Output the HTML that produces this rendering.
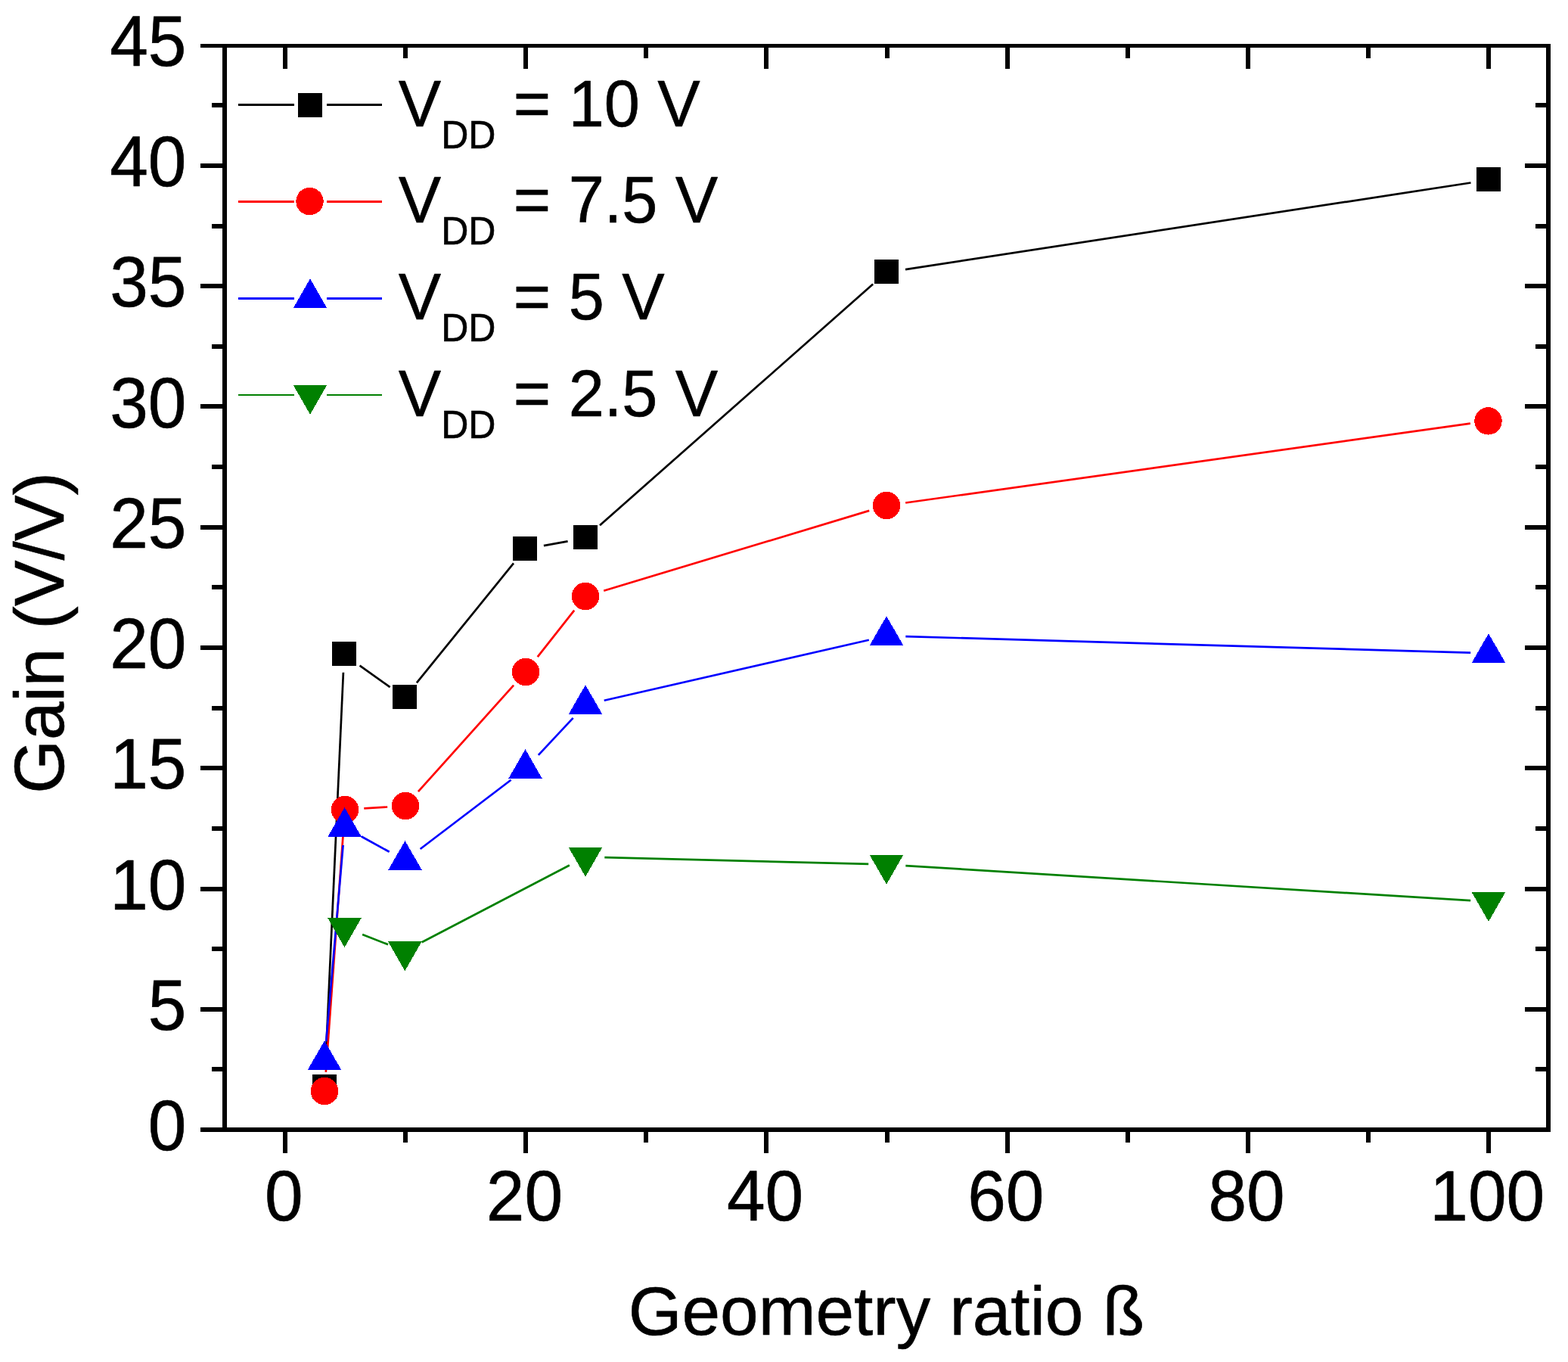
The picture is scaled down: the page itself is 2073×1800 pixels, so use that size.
<!DOCTYPE html>
<html lang="en"><head><meta charset="utf-8"><title>Gain vs geometry ratio</title>
<style>html,body{margin:0;padding:0;background:#fff;}body{width:2073px;height:1800px;}svg{display:block;}text{font-family:"Liberation Sans",sans-serif;fill:#000;stroke:#000;stroke-width:0.6px;stroke-linejoin:round;}</style>
</head><body>
<svg width="2073" height="1800" viewBox="0 0 2073 1800">
<rect x="0" y="0" width="2073" height="1800" fill="#fff"/>
<g fill="#000" shape-rendering="crispEdges">
<rect x="265" y="58" width="1785" height="5"/>
<rect x="265" y="1490" width="1785" height="6"/>
<rect x="294" y="58" width="6" height="1438"/>
<rect x="2044" y="58" width="6" height="1438"/>
<rect x="280" y="1410" width="14" height="6"/>
<rect x="2030" y="1410" width="14" height="6"/>
<rect x="265" y="1331" width="29" height="6"/>
<rect x="2016" y="1331" width="28" height="6"/>
<rect x="280" y="1251" width="14" height="6"/>
<rect x="2030" y="1251" width="14" height="6"/>
<rect x="265" y="1172" width="29" height="6"/>
<rect x="2016" y="1172" width="28" height="6"/>
<rect x="280" y="1092" width="14" height="6"/>
<rect x="2030" y="1092" width="14" height="6"/>
<rect x="265" y="1012" width="29" height="6"/>
<rect x="2016" y="1012" width="28" height="6"/>
<rect x="280" y="933" width="14" height="6"/>
<rect x="2030" y="933" width="14" height="6"/>
<rect x="265" y="853" width="29" height="6"/>
<rect x="2016" y="853" width="28" height="6"/>
<rect x="280" y="773" width="14" height="6"/>
<rect x="2030" y="773" width="14" height="6"/>
<rect x="265" y="694" width="29" height="6"/>
<rect x="2016" y="694" width="28" height="6"/>
<rect x="280" y="614" width="14" height="6"/>
<rect x="2030" y="614" width="14" height="6"/>
<rect x="265" y="534" width="29" height="6"/>
<rect x="2016" y="534" width="28" height="6"/>
<rect x="280" y="455" width="14" height="6"/>
<rect x="2030" y="455" width="14" height="6"/>
<rect x="265" y="375" width="29" height="6"/>
<rect x="2016" y="375" width="28" height="6"/>
<rect x="280" y="296" width="14" height="6"/>
<rect x="2030" y="296" width="14" height="6"/>
<rect x="265" y="216" width="29" height="6"/>
<rect x="2016" y="216" width="28" height="6"/>
<rect x="280" y="136" width="14" height="6"/>
<rect x="2030" y="136" width="14" height="6"/>
<rect x="374" y="1496" width="6" height="28"/>
<rect x="374" y="63" width="6" height="28"/>
<rect x="533" y="1496" width="6" height="14"/>
<rect x="533" y="63" width="6" height="14"/>
<rect x="692" y="1496" width="6" height="28"/>
<rect x="692" y="63" width="6" height="28"/>
<rect x="851" y="1496" width="6" height="14"/>
<rect x="851" y="63" width="6" height="14"/>
<rect x="1010" y="1496" width="6" height="28"/>
<rect x="1010" y="63" width="6" height="28"/>
<rect x="1170" y="1496" width="6" height="14"/>
<rect x="1170" y="63" width="6" height="14"/>
<rect x="1329" y="1496" width="6" height="28"/>
<rect x="1329" y="63" width="6" height="28"/>
<rect x="1488" y="1496" width="6" height="14"/>
<rect x="1488" y="63" width="6" height="14"/>
<rect x="1647" y="1496" width="6" height="28"/>
<rect x="1647" y="63" width="6" height="28"/>
<rect x="1806" y="1496" width="6" height="14"/>
<rect x="1806" y="63" width="6" height="14"/>
<rect x="1965" y="1496" width="6" height="28"/>
<rect x="1965" y="63" width="6" height="28"/>
</g>
<g font-size="91">
<text transform="translate(246.4,1520.0) scale(1,1.036)" text-anchor="end">0</text>
<text transform="translate(246.4,1360.8) scale(1,1.036)" text-anchor="end">5</text>
<text transform="translate(246.4,1201.5) scale(1,1.036)" text-anchor="end">10</text>
<text transform="translate(246.4,1042.2) scale(1,1.036)" text-anchor="end">15</text>
<text transform="translate(246.4,883.0) scale(1,1.036)" text-anchor="end">20</text>
<text transform="translate(246.4,723.8) scale(1,1.036)" text-anchor="end">25</text>
<text transform="translate(246.4,564.5) scale(1,1.036)" text-anchor="end">30</text>
<text transform="translate(246.4,405.2) scale(1,1.036)" text-anchor="end">35</text>
<text transform="translate(246.4,246.0) scale(1,1.036)" text-anchor="end">40</text>
<text transform="translate(246.4,86.8) scale(1,1.036)" text-anchor="end">45</text>
<text transform="translate(375.2,1613) scale(1,1.036)" text-anchor="middle">0</text>
<text transform="translate(693.4,1613) scale(1,1.036)" text-anchor="middle">20</text>
<text transform="translate(1011.6,1613) scale(1,1.036)" text-anchor="middle">40</text>
<text transform="translate(1329.8,1613) scale(1,1.036)" text-anchor="middle">60</text>
<text transform="translate(1648.0,1613) scale(1,1.036)" text-anchor="middle">80</text>
<text transform="translate(1966.2,1613) scale(1,1.036)" text-anchor="middle">100</text>
<text x="1172" y="1764" text-anchor="middle">Geometry ratio ß</text>
<text transform="translate(84.3,836.5) rotate(-90) scale(1,1.02)" text-anchor="middle">Gain (V/V)</text>
</g>
<g shape-rendering="crispEdges">
<line x1="430.1" y1="1411.6" x2="453.9" y2="888.7" stroke="#000000" stroke-width="2.7" shape-rendering="geometricPrecision"/>
<line x1="475.6" y1="879.6" x2="515.6" y2="908.1" stroke="#000000" stroke-width="2.7" shape-rendering="geometricPrecision"/>
<line x1="550.9" y1="902.3" x2="679.0" y2="744.4" stroke="#000000" stroke-width="2.7" shape-rendering="geometricPrecision"/>
<line x1="718.9" y1="721.2" x2="750.6" y2="715.3" stroke="#000000" stroke-width="2.7" shape-rendering="geometricPrecision"/>
<line x1="793.0" y1="694.2" x2="1154.1" y2="375.6" stroke="#000000" stroke-width="2.7" shape-rendering="geometricPrecision"/>
<line x1="1197.0" y1="356.1" x2="1944.5" y2="241.5" stroke="#000000" stroke-width="2.7" shape-rendering="geometricPrecision"/>
<rect x="413.0" y="1420.0" width="32" height="32" fill="#000000"/>
<rect x="439.0" y="848.0" width="32" height="32" fill="#000000"/>
<rect x="519.0" y="905.0" width="32" height="32" fill="#000000"/>
<rect x="678.0" y="709.0" width="32" height="32" fill="#000000"/>
<rect x="758.0" y="694.0" width="32" height="32" fill="#000000"/>
<rect x="1156.0" y="343.0" width="32" height="32" fill="#000000"/>
<rect x="1952.0" y="221.0" width="32" height="32" fill="#000000"/>
<line x1="430.8" y1="1416.8" x2="454.3" y2="1093.7" stroke="#ff0000" stroke-width="2.7" shape-rendering="geometricPrecision"/>
<line x1="481.3" y1="1068.4" x2="512.2" y2="1066.5" stroke="#ff0000" stroke-width="2.7" shape-rendering="geometricPrecision"/>
<line x1="552.9" y1="1046.2" x2="679.1" y2="905.7" stroke="#ff0000" stroke-width="2.7" shape-rendering="geometricPrecision"/>
<line x1="710.7" y1="868.1" x2="759.2" y2="806.7" stroke="#ff0000" stroke-width="2.7" shape-rendering="geometricPrecision"/>
<line x1="798.2" y1="780.7" x2="1149.2" y2="674.9" stroke="#ff0000" stroke-width="2.7" shape-rendering="geometricPrecision"/>
<line x1="1197.1" y1="664.5" x2="1943.9" y2="559.7" stroke="#ff0000" stroke-width="2.7" shape-rendering="geometricPrecision"/>
<circle cx="429.0" cy="1442.0" r="18.2" fill="#ff0000"/>
<circle cx="456.0" cy="1070.0" r="18.2" fill="#ff0000"/>
<circle cx="536.0" cy="1065.0" r="18.2" fill="#ff0000"/>
<circle cx="695.0" cy="888.0" r="18.2" fill="#ff0000"/>
<circle cx="774.0" cy="788.0" r="18.2" fill="#ff0000"/>
<circle cx="1172.0" cy="668.0" r="18.2" fill="#ff0000"/>
<circle cx="1967.5" cy="556.4" r="18.2" fill="#ff0000"/>
<line x1="431.2" y1="1376.3" x2="453.6" y2="1117.0" stroke="#0000ff" stroke-width="2.7" shape-rendering="geometricPrecision"/>
<line x1="477.8" y1="1105.5" x2="514.7" y2="1125.8" stroke="#0000ff" stroke-width="2.7" shape-rendering="geometricPrecision"/>
<line x1="555.6" y1="1122.0" x2="675.6" y2="1030.8" stroke="#0000ff" stroke-width="2.7" shape-rendering="geometricPrecision"/>
<line x1="711.8" y1="997.9" x2="757.7" y2="948.8" stroke="#0000ff" stroke-width="2.7" shape-rendering="geometricPrecision"/>
<line x1="798.7" y1="925.8" x2="1148.8" y2="845.7" stroke="#0000ff" stroke-width="2.7" shape-rendering="geometricPrecision"/>
<line x1="1197.3" y1="841.1" x2="1944.2" y2="862.7" stroke="#0000ff" stroke-width="2.7" shape-rendering="geometricPrecision"/>
<polygon points="429.0,1375.3 451.3,1414.1 406.7,1414.1" fill="#0000ff"/>
<polygon points="455.6,1067.1 477.9,1105.9 433.3,1105.9" fill="#0000ff"/>
<polygon points="535.5,1111.1 557.8,1149.9 513.2,1149.9" fill="#0000ff"/>
<polygon points="694.5,990.2 716.8,1029.0 672.2,1029.0" fill="#0000ff"/>
<polygon points="774.0,905.2 796.3,944.0 751.7,944.0" fill="#0000ff"/>
<polygon points="1172.0,814.2 1194.3,853.0 1149.7,853.0" fill="#0000ff"/>
<polygon points="1968.0,837.2 1990.3,876.0 1945.7,876.0" fill="#0000ff"/>
<line x1="479.1" y1="1235.0" x2="513.1" y2="1248.3" stroke="#008000" stroke-width="2.7" shape-rendering="geometricPrecision"/>
<line x1="557.7" y1="1245.3" x2="752.9" y2="1143.5" stroke="#008000" stroke-width="2.7" shape-rendering="geometricPrecision"/>
<line x1="799.3" y1="1133.1" x2="1148.2" y2="1141.9" stroke="#008000" stroke-width="2.7" shape-rendering="geometricPrecision"/>
<line x1="1197.3" y1="1144.1" x2="1944.2" y2="1190.2" stroke="#008000" stroke-width="2.7" shape-rendering="geometricPrecision"/>
<polygon points="455.5,1252.0 477.8,1213.2 433.2,1213.2" fill="#008000"/>
<polygon points="535.3,1283.2 557.6,1244.4 513.0,1244.4" fill="#008000"/>
<polygon points="774.0,1158.7 796.3,1119.9 751.7,1119.9" fill="#008000"/>
<polygon points="1172.0,1168.7 1194.3,1129.9 1149.7,1129.9" fill="#008000"/>
<polygon points="1968.0,1217.9 1990.3,1179.1 1945.7,1179.1" fill="#008000"/>
</g>
<g shape-rendering="crispEdges">
<rect x="315" y="137.0" width="74" height="3" fill="#000000"/>
<rect x="432" y="137.0" width="73" height="3" fill="#000000"/>
<rect x="394.0" y="123.0" width="32" height="32" fill="#000000"/>
<rect x="315" y="265.0" width="74" height="3" fill="#ff0000"/>
<rect x="432" y="265.0" width="73" height="3" fill="#ff0000"/>
<circle cx="409.5" cy="266.1" r="18.2" fill="#ff0000"/>
<rect x="315" y="393.0" width="74" height="3" fill="#0000ff"/>
<rect x="432" y="393.0" width="73" height="3" fill="#0000ff"/>
<polygon points="410.0,368.4 432.3,407.2 387.7,407.2" fill="#0000ff"/>
<rect x="315" y="521.0" width="74" height="2" fill="#008000"/>
<rect x="432" y="521.0" width="73" height="2" fill="#008000"/>
<polygon points="410.0,547.7 432.3,508.9 387.7,508.9" fill="#008000"/>
</g>
<text transform="translate(526.7,166.7) scale(1,1.030)" font-size="84.6">V<tspan font-size="50" dy="28.3">DD</tspan><tspan dy="-28.3"> = 10 V</tspan></text>
<text transform="translate(526.7,294.3) scale(1,1.030)" font-size="84.6">V<tspan font-size="50" dy="28.3">DD</tspan><tspan dy="-28.3"> = 7.5 V</tspan></text>
<text transform="translate(526.7,421.9) scale(1,1.030)" font-size="84.6">V<tspan font-size="50" dy="28.3">DD</tspan><tspan dy="-28.3"> = 5 V</tspan></text>
<text transform="translate(526.7,549.5) scale(1,1.030)" font-size="84.6">V<tspan font-size="50" dy="28.3">DD</tspan><tspan dy="-28.3"> = 2.5 V</tspan></text>
</svg>
</body></html>
